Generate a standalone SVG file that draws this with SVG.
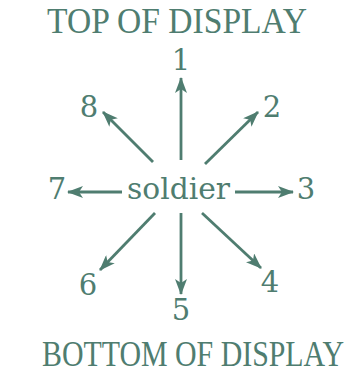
<svg xmlns="http://www.w3.org/2000/svg" width="349" height="369" viewBox="0 0 349 369">
<style>
text{font-family:"DejaVu Serif","Liberation Serif",serif;fill:#4f7d70;}
.h{font-family:"Liberation Serif","DejaVu Serif",serif;font-size:35px;}
.d{font-size:29px;text-anchor:middle;}
.s{font-size:29px;}
.c line{stroke:#4f7d70;stroke-width:2.8;marker-end:url(#ah);}
</style>
<defs>
<marker id="ah" viewBox="0 0 16 12" refX="15" refY="6" markerWidth="16" markerHeight="12" markerUnits="userSpaceOnUse" orient="auto">
<path d="M0,0 L16,6 L0,12 L4,6 Z" fill="#4f7d70"/>
</marker>
</defs>
<rect width="349" height="369" fill="#ffffff"/>
<g id="top"><text class="h" x="47" y="33" textLength="260" lengthAdjust="spacingAndGlyphs">TOP OF DISPLAY</text></g>
<g id="bottom"><text class="h" x="42" y="366" textLength="302" lengthAdjust="spacingAndGlyphs">BOTTOM OF DISPLAY</text></g>
<g id="soldier"><text class="s" x="127" y="199" textLength="103" lengthAdjust="spacingAndGlyphs">soldier</text></g>
<g id="n1"><text class="d" x="181" y="70">1</text></g>
<g id="n2"><text class="d" x="272" y="117">2</text></g>
<g id="n3"><text class="d" x="306" y="199">3</text></g>
<g id="n4"><text class="d" x="270" y="292">4</text></g>
<g id="n5"><text class="d" x="181" y="320">5</text></g>
<g id="n6"><text class="d" x="88" y="295">6</text></g>
<g id="n7"><text class="d" x="57" y="199">7</text></g>
<g id="n8"><text class="d" x="89" y="117">8</text></g>
<g class="c" id="connectors">
<line x1="181" y1="160" x2="181" y2="78"/>
<line x1="205" y1="164" x2="258" y2="112"/>
<line x1="235" y1="192" x2="293" y2="192"/>
<line x1="202" y1="213" x2="261" y2="268"/>
<line x1="181" y1="213" x2="181" y2="294"/>
<line x1="155" y1="213" x2="100" y2="270"/>
<line x1="122" y1="192" x2="68" y2="192"/>
<line x1="153" y1="162" x2="103" y2="112"/>
</g>
</svg>
